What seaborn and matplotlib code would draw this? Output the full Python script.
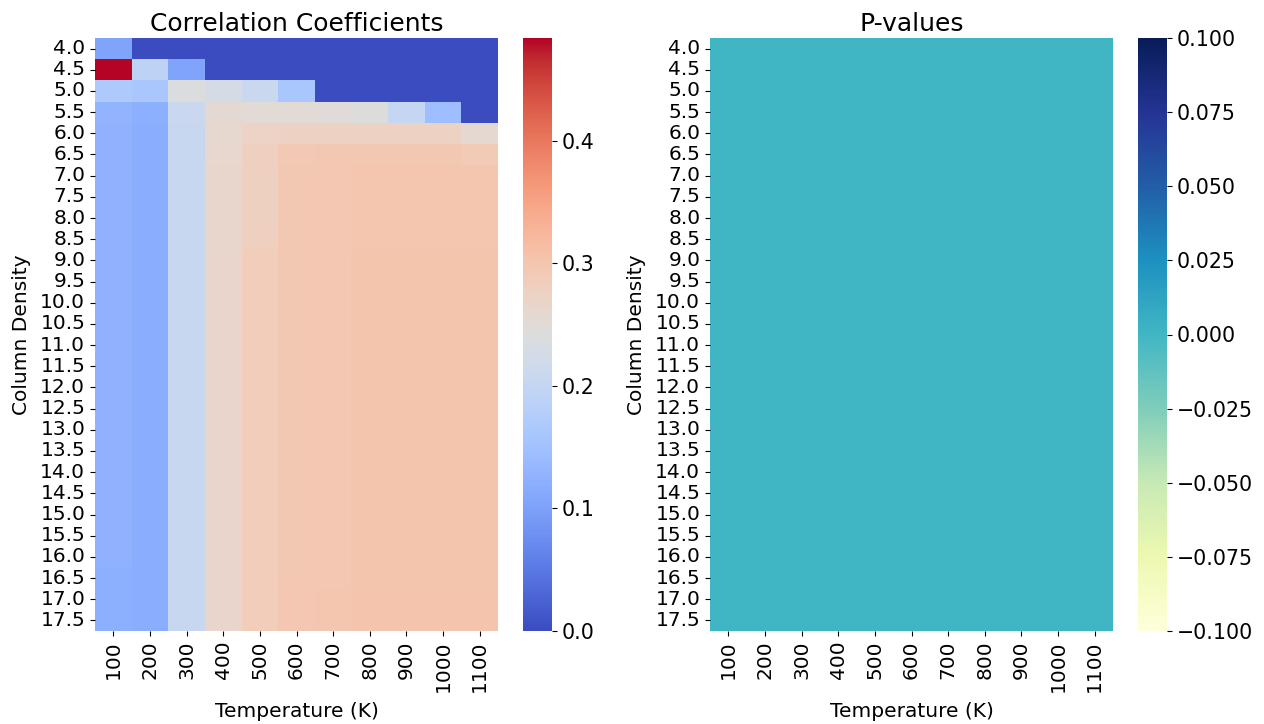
import numpy as np
import pandas as pd
import matplotlib
matplotlib.use("Agg")
import matplotlib.pyplot as plt
import seaborn as sns

# Grid axes
temperatures = [100, 200, 300, 400, 500, 600, 700, 800, 900, 1000, 1100]
column_densities = [4.0, 4.5, 5.0, 5.5, 6.0, 6.5, 7.0, 7.5, 8.0, 8.5, 9.0, 9.5,
                    10.0, 10.5, 11.0, 11.5, 12.0, 12.5, 13.0, 13.5, 14.0, 14.5,
                    15.0, 15.5, 16.0, 16.5, 17.0, 17.5]

# Correlation coefficient per column density (rows) and temperature (columns)
corr_4_0 = [0.105, 0, 0, 0, 0, 0, 0, 0, 0, 0, 0]
corr_4_5 = [0.484, 0.190, 0.105, 0, 0, 0, 0, 0, 0, 0, 0]
corr_5_0 = [0.167, 0.160, 0.240, 0.228, 0.208, 0.162, 0, 0, 0, 0, 0]
corr_5_5 = [0.128, 0.121, 0.208, 0.256, 0.252, 0.252, 0.249, 0.242, 0.201, 0.145, 0]
corr_6_0 = [0.125, 0.119, 0.206, 0.260, 0.274, 0.276, 0.276, 0.276, 0.276, 0.275, 0.259]
corr_6_5 = [0.125, 0.119, 0.205, 0.262, 0.280, 0.294, 0.295, 0.296, 0.296, 0.295, 0.290]
corr_7_0 = [0.124, 0.119, 0.205, 0.264, 0.279, 0.295, 0.297, 0.300, 0.300, 0.300, 0.300]
corr_7_5 = [0.124, 0.119, 0.205, 0.264, 0.279, 0.295, 0.297, 0.300, 0.300, 0.300, 0.300]
corr_8_0 = [0.124, 0.119, 0.205, 0.264, 0.279, 0.295, 0.297, 0.300, 0.300, 0.300, 0.300]
corr_8_5 = [0.124, 0.119, 0.205, 0.264, 0.280, 0.295, 0.297, 0.300, 0.300, 0.300, 0.300]
corr_9_0 = [0.123, 0.119, 0.205, 0.265, 0.286, 0.296, 0.298, 0.301, 0.301, 0.301, 0.301]
corr_9_5 = [0.123, 0.119, 0.205, 0.265, 0.286, 0.296, 0.298, 0.301, 0.301, 0.301, 0.301]
corr_10_0 = [0.123, 0.119, 0.205, 0.265, 0.286, 0.296, 0.298, 0.301, 0.301, 0.301, 0.301]
corr_10_5 = [0.123, 0.119, 0.205, 0.265, 0.286, 0.296, 0.298, 0.301, 0.301, 0.301, 0.301]
corr_11_0 = [0.123, 0.119, 0.205, 0.265, 0.286, 0.296, 0.298, 0.301, 0.301, 0.301, 0.301]
corr_11_5 = [0.123, 0.119, 0.205, 0.265, 0.286, 0.296, 0.298, 0.301, 0.301, 0.301, 0.301]
corr_12_0 = [0.123, 0.119, 0.205, 0.265, 0.286, 0.296, 0.298, 0.301, 0.301, 0.301, 0.301]
corr_12_5 = [0.123, 0.119, 0.205, 0.265, 0.286, 0.296, 0.298, 0.301, 0.301, 0.301, 0.301]
corr_13_0 = [0.123, 0.119, 0.205, 0.265, 0.286, 0.296, 0.298, 0.301, 0.301, 0.301, 0.301]
corr_13_5 = [0.123, 0.119, 0.205, 0.265, 0.286, 0.296, 0.298, 0.301, 0.301, 0.301, 0.301]
corr_14_0 = [0.123, 0.119, 0.205, 0.265, 0.286, 0.296, 0.298, 0.301, 0.301, 0.301, 0.301]
corr_14_5 = [0.123, 0.119, 0.205, 0.265, 0.286, 0.296, 0.298, 0.301, 0.301, 0.301, 0.301]
corr_15_0 = [0.123, 0.119, 0.205, 0.265, 0.286, 0.296, 0.298, 0.301, 0.301, 0.301, 0.301]
corr_15_5 = [0.123, 0.119, 0.205, 0.265, 0.286, 0.296, 0.298, 0.301, 0.301, 0.301, 0.301]
corr_16_0 = [0.123, 0.119, 0.205, 0.265, 0.286, 0.296, 0.298, 0.301, 0.301, 0.301, 0.301]
corr_16_5 = [0.122, 0.119, 0.205, 0.265, 0.286, 0.296, 0.298, 0.301, 0.301, 0.301, 0.301]
corr_17_0 = [0.121, 0.119, 0.205, 0.265, 0.286, 0.297, 0.299, 0.304, 0.304, 0.304, 0.304]
corr_17_5 = [0.121, 0.119, 0.205, 0.265, 0.286, 0.297, 0.299, 0.304, 0.304, 0.304, 0.304]

correlation_rows = [corr_4_0, corr_4_5, corr_5_0, corr_5_5, corr_6_0, corr_6_5,
                    corr_7_0, corr_7_5, corr_8_0, corr_8_5, corr_9_0, corr_9_5,
                    corr_10_0, corr_10_5, corr_11_0, corr_11_5, corr_12_0, corr_12_5,
                    corr_13_0, corr_13_5, corr_14_0, corr_14_5, corr_15_0, corr_15_5,
                    corr_16_0, corr_16_5, corr_17_0, corr_17_5]

# P-value of every correlation (all vanishingly small)
p_value_rows = [[0.0] * len(temperatures) for _ in column_densities]

density_labels = [f"{d:.1f}" for d in column_densities]
temp_labels = [str(t) for t in temperatures]

corr_df = pd.DataFrame(correlation_rows, index=density_labels, columns=temp_labels)
pval_df = pd.DataFrame(p_value_rows, index=density_labels, columns=temp_labels)

W, H = 1264, 724
fig = plt.figure(figsize=(W / 100, H / 100), dpi=100)


def box(x0, y0, x1, y1):
    return [x0 / W, 1 - y1 / H, (x1 - x0) / W, (y1 - y0) / H]


ax1 = fig.add_axes(box(95, 38, 498, 631))
cax1 = fig.add_axes(box(523, 38, 552, 631))
ax2 = fig.add_axes(box(710, 38, 1113, 631))
cax2 = fig.add_axes(box(1138, 38, 1167, 631))

tick_fs = 14.5
cbar_fs = 14.8
label_fs = 14.5
title_fs = 18

sns.heatmap(corr_df, cmap="coolwarm", ax=ax1, cbar_ax=cax1)
ax1.set_title("Correlation Coefficients", fontsize=title_fs, pad=5)

sns.heatmap(pval_df, cmap="YlGnBu", vmin=-0.1, vmax=0.1, ax=ax2, cbar_ax=cax2)
ax2.set_title("P-values", fontsize=title_fs, pad=5)

for ax in (ax1, ax2):
    ax.set_xlabel("Temperature (K)", fontsize=label_fs, labelpad=7)
    ax.set_ylabel("Column Density", fontsize=label_fs, labelpad=7)
    ax.set_xticks(np.arange(len(temp_labels)) + 0.5)
    ax.set_xticklabels(temp_labels, rotation=90, fontsize=tick_fs)
    ax.set_yticks(np.arange(len(density_labels)) + 0.5)
    ax.set_yticklabels(density_labels, rotation=0, fontsize=tick_fs)

for cax in (cax1, cax2):
    cax.tick_params(labelsize=cbar_fs)

fig.savefig("out.png", dpi=100)
